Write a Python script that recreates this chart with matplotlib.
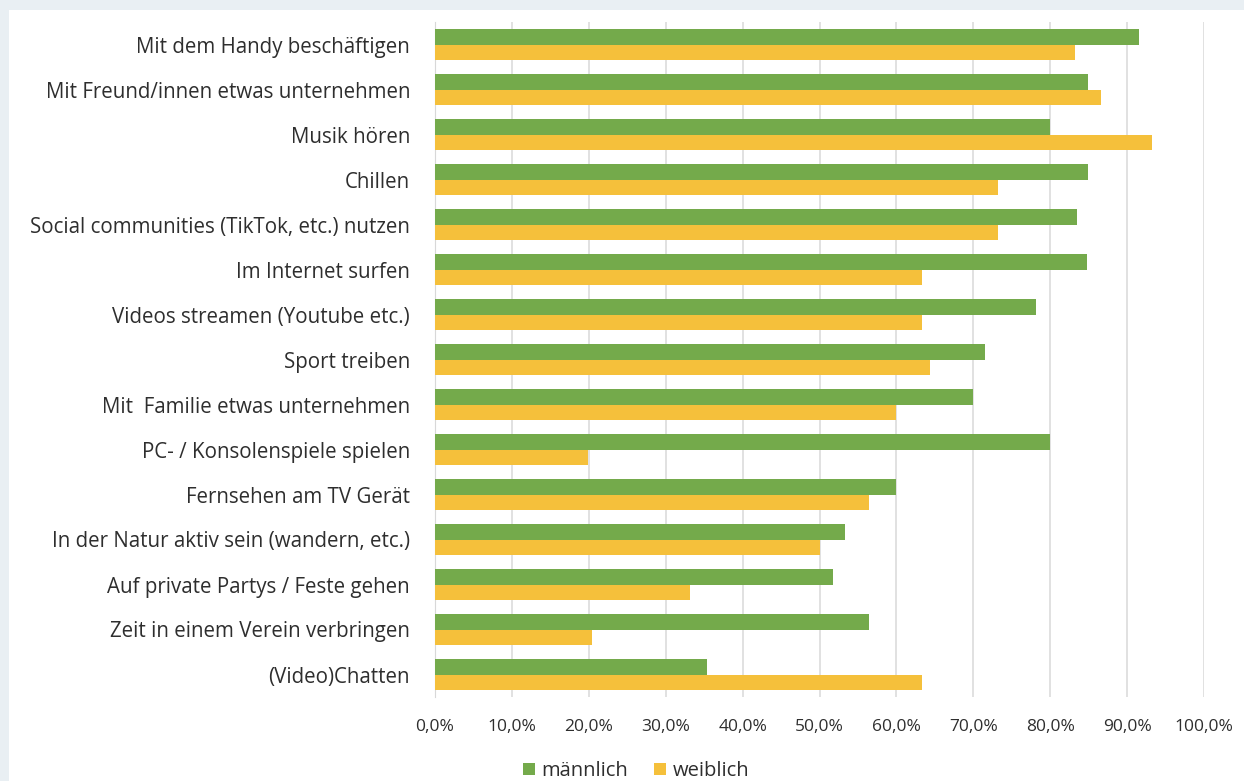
import matplotlib
matplotlib.use("Agg")
import matplotlib.pyplot as plt
import numpy as np
from matplotlib.patches import Rectangle

categories = [
    "Mit dem Handy beschäftigen",
    "Mit Freund/innen etwas unternehmen",
    "Musik hören",
    "Chillen",
    "Social communities (TikTok, etc.) nutzen",
    "Im Internet surfen",
    "Videos streamen (Youtube etc.)",
    "Sport treiben",
    "Mit  Familie etwas unternehmen",
    "PC- / Konsolenspiele spielen",
    "Fernsehen am TV Gerät",
    "In der Natur aktiv sein (wandern, etc.)",
    "Auf private Partys / Feste gehen",
    "Zeit in einem Verein verbringen",
    "(Video)Chatten",
]
maennlich = [91.6, 84.9, 80.0, 84.9, 83.5, 84.8, 78.2, 71.5, 70.0, 80.0, 60.0, 53.3, 51.7, 56.5, 35.4]
weiblich = [83.2, 86.6, 93.3, 73.2, 73.2, 63.3, 63.3, 64.4, 59.9, 19.9, 56.5, 50.0, 33.2, 20.4, 63.3]
xticks = [0, 10, 20, 30, 40, 50, 60, 70, 80, 90, 100]
xticklabels = ["0,0%", "10,0%", "20,0%", "30,0%", "40,0%", "50,0%", "60,0%", "70,0%", "80,0%", "90,0%", "100,0%"]

GREEN = "#74aa4b"
YELLOW = "#f5c03b"
TEXT = "#2e2e2e"
FONT = "Open Sans"

W, H = 1244, 781
fig = plt.figure(figsize=(W / 100, H / 100), dpi=100)
fig.patch.set_facecolor("#e9eff3")
bgax = fig.add_axes([9 / W, 0, 1 - 9 / W, 1 - 10 / H], zorder=-5)
bgax.set_facecolor("white")
bgax.set_axis_off()
bgax.add_patch(Rectangle((0, 0), 1, 1, transform=bgax.transAxes, facecolor="white", edgecolor="none"))

left, right, top, bottom = 435, 1204, 22, 697
ax = fig.add_axes([left / W, 1 - bottom / H, (right - left) / W, (bottom - top) / H], zorder=1)
ax.set_facecolor("none")

n = len(categories)
y = np.arange(n)
h = 0.335
ax.barh(y - h / 2, maennlich, height=h, color=GREEN, label="männlich", zorder=3)
ax.barh(y + h / 2, weiblich, height=h, color=YELLOW, label="weiblich", zorder=3)

ax.set_ylim(n - 0.5, -0.5)
ax.set_xlim(0, 100)
ax.set_yticks(y)
ax.set_yticklabels(categories, fontsize=14.8, color=TEXT, family=FONT)
ax.set_xticks(xticks)
ax.set_xticklabels(xticklabels, fontsize=12.5, color=TEXT, family=FONT)
ax.tick_params(axis="y", length=0, pad=18)
ax.tick_params(axis="x", length=0, pad=16)
ax.grid(axis="x", color="#dcdcdc", linewidth=1.2, zorder=0)
for s in ["top", "right", "bottom"]:
    ax.spines[s].set_visible(False)
ax.spines["left"].set_color("#d8d8d8")

leg = fig.legend(loc="center", bbox_to_anchor=(636 / W, 1 - 771 / H), ncol=2, frameon=False,
                 prop={"family": FONT, "size": 14.5}, handlelength=0.6, handleheight=0.6,
                 handletextpad=0.3, columnspacing=1.3)
for t in leg.get_texts():
    t.set_color(TEXT)

fig.savefig("out.png", dpi=100, facecolor=fig.get_facecolor())
